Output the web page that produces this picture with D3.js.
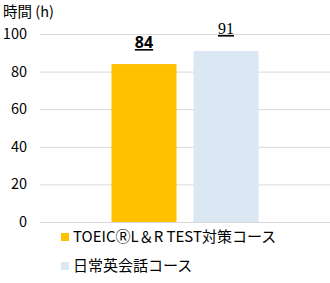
<!DOCTYPE html>
<html>
<head>
<meta charset="utf-8">
<script src="https://cdn.jsdelivr.net/npm/d3@7"></script>
<style>
  body { margin: 0; background: #fff; }
  text { font-family: "Noto Sans CJK JP", "Noto Sans", sans-serif; }
</style>
</head>
<body>
<script>
// Data
const courses = ["TOEICⓇL＆R TEST対策コース", "日常英会話コース"];
const hours = [84, 91];
const colors = ["#FFC000", "#DCE7F4"];
const yTicks = [0, 20, 40, 60, 80, 100];

const width = 330, height = 283;
const plot = { left: 40, right: 330, top: 34, bottom: 222 };

const svg = d3.select("body").append("svg")
  .attr("width", width)
  .attr("height", height);

const x = d3.scaleBand()
  .domain(courses)
  .range([plot.left, plot.right])
  .paddingInner(0.207)
  .paddingOuter(0.872);

const y = d3.scaleLinear()
  .domain([0, 100])
  .range([plot.bottom, plot.top]);

// gridlines
svg.append("g")
  .selectAll("line")
  .data(yTicks)
  .join("line")
  .attr("x1", plot.left)
  .attr("x2", plot.right)
  .attr("y1", d => y(d) + 0.5)
  .attr("y2", d => y(d) + 0.5)
  .attr("stroke", "#d9d9d9")
  .attr("stroke-width", 1);

// y tick labels
svg.append("g")
  .selectAll("text")
  .data(yTicks)
  .join("text")
  .attr("x", 27)
  .attr("y", d => y(d) + 5)
  .attr("text-anchor", "end")
  .attr("font-size", 14.5)
  .attr("fill", "#000")
  .text(d => d);

// axis title
svg.append("text")
  .attr("x", 3)
  .attr("y", 17)
  .attr("font-size", 14.5)
  .text("時間 (h)");

// bars
svg.append("g")
  .selectAll("rect")
  .data(hours)
  .join("rect")
  .attr("x", (d, i) => x(courses[i]))
  .attr("y", d => y(d))
  .attr("width", x.bandwidth())
  .attr("height", d => y(0) - y(d))
  .attr("fill", (d, i) => colors[i]);

// value labels (underlined)
svg.append("g")
  .selectAll("text")
  .data(hours)
  .join("text")
  .attr("x", (d, i) => x(courses[i]) + x.bandwidth() / 2)
  .attr("y", (d, i) => i === 0 ? 48 : 34)
  .attr("text-anchor", "middle")
  .attr("font-size", 16)
  .attr("font-weight", (d, i) => i === 0 ? "bold" : "normal")
  .style("font-family", (d, i) => i === 0 ? "'Noto Sans', sans-serif" : "'Liberation Serif', serif")
  .attr("text-decoration", "underline")
  .text(d => d);

// legend
const legend = svg.append("g")
  .selectAll("g")
  .data(courses)
  .join("g")
  .attr("transform", (d, i) => `translate(61, ${233 + i * 29})`);

legend.append("rect")
  .attr("width", 8)
  .attr("height", 8)
  .attr("fill", (d, i) => colors[i]);

legend.append("text")
  .attr("x", 12)
  .attr("y", 9)
  .attr("font-size", 15)
  .attr("fill", "#000")
  .text(d => d);
</script>
</body>
</html>
